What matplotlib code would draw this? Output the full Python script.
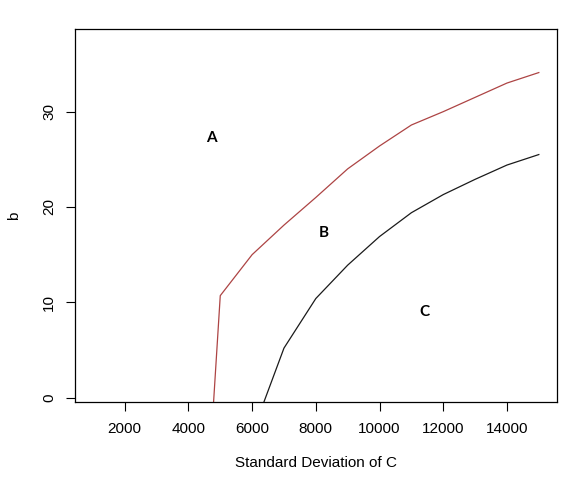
import matplotlib
matplotlib.use("Agg")
import matplotlib.pyplot as plt

plt.rcParams['font.family'] = ['Liberation Sans', 'DejaVu Sans']

# boundary between regions A and B (red) and B and C (black)
sd_upper = [4780, 5000, 6000, 7000, 8000, 9000, 10000, 11000, 12000, 13000, 14000, 15000]
b_upper = [-1.0, 10.7, 15.0, 18.1, 21.0, 24.0, 26.4, 28.6, 30.0, 31.5, 33.0, 34.1]

sd_lower = [6310, 7000, 8000, 9000, 10000, 11000, 12000, 13000, 14000, 15000]
b_lower = [-1.0, 5.2, 10.4, 13.9, 16.9, 19.4, 21.3, 22.9, 24.4, 25.5]

region_labels = ["A", "B", "C"]
region_x = [4720, 8250, 11400]
region_y = [27.2, 17.3, 9.0]

xticks = [2000, 4000, 6000, 8000, 10000, 12000, 14000]
yticks = [0, 10, 20, 30]

fig = plt.figure(figsize=(5.66, 4.8), dpi=100)
ax = fig.add_axes([0.1325, 0.162, 0.851, 0.777])

ax.plot(sd_upper, b_upper, color='#ad4444', linewidth=0.9)
ax.plot(sd_lower, b_lower, color='#1a1a1a', linewidth=0.9)

for lab, x, y in zip(region_labels, region_x, region_y):
    ax.text(x, y, lab, fontsize=11, fontweight='bold', family=['Lato', 'DejaVu Sans'],
            ha='center', va='center')

ax.set_xlim(440, 15560)
ax.set_ylim(-0.48, 38.64)
ax.set_xticks(xticks)
ax.set_yticks(yticks)
ax.set_yticklabels([str(t) for t in yticks], rotation=90, va='center')
ax.tick_params(axis='both', direction='out', length=6.5, width=0.8, labelsize=11)
ax.tick_params(axis='x', pad=8)
ax.tick_params(axis='y', pad=7)

for s in ax.spines.values():
    s.set_linewidth(0.9)
    s.set_color('black')

ax.set_xlabel("Standard Deviation of C", fontsize=11, labelpad=14)
ax.set_ylabel("b", fontsize=11, labelpad=15)

fig.savefig("out.png", dpi=100)
